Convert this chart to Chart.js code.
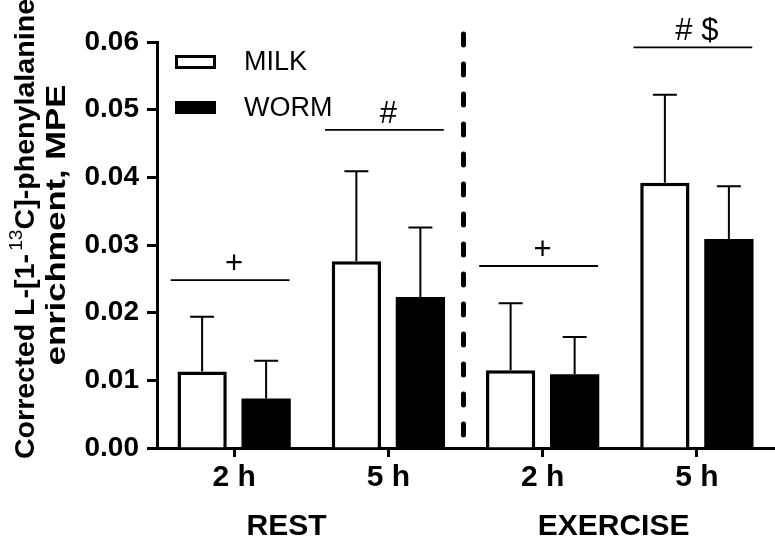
<!DOCTYPE html>
<html><head><meta charset="utf-8">
<script src="https://cdn.jsdelivr.net/npm/chart.js@4/dist/chart.umd.min.js"></script>
<style>html,body{margin:0;padding:0;background:#fff}</style>
</head><body>
<canvas id="c" width="775" height="544"></canvas>
<script>
const categories = ['2 h', '5 h', '2 h', '5 h'];
const groupLabels = ['REST', 'EXERCISE'];
const seriesNames = ['MILK', 'WORM'];
const milkMean = [0.0113, 0.0276, 0.0115, 0.0392];
const milkSD   = [0.0081, 0.0133, 0.0099, 0.0130];
const wormMean = [0.0073, 0.0223, 0.0109, 0.0309];
const wormSD   = [0.0056, 0.0103, 0.0055, 0.0078];
const sigText  = ['+', '#', '+', '# $'];
const sigLevel = [0.0248, 0.0470, 0.0269, 0.0592];
const yMin = 0, yMax = 0.06, yStep = 0.01;
const yTitle1a = 'Corrected L-[1-', yTitleSup = '13', yTitle1b = 'C]-phenylalanine';
const yTitle2 = 'enrichment, MPE';

const FONT = '"Liberation Sans", Arial, sans-serif';

const annot = {
  id: 'annot',
  afterDatasetsDraw(chart) {
    const {ctx, chartArea: ca, scales: {x, y}} = chart;
    ctx.save();
    ctx.strokeStyle = '#000';
    // error bars (upper only)
    chart.data.datasets.forEach((ds, di) => {
      const sd = di === 0 ? milkSD : wormSD;
      chart.getDatasetMeta(di).data.forEach((bar, i) => {
        const top = y.getPixelForValue(ds.data[i] + sd[i]);
        ctx.lineWidth = 2;
        ctx.beginPath();
        ctx.moveTo(bar.x, bar.y);
        ctx.lineTo(bar.x, top);
        ctx.moveTo(bar.x - 12, top);
        ctx.lineTo(bar.x + 12, top);
        ctx.stroke();
      });
    });
    // significance lines & symbols
    const cw = x.getPixelForValue(1) - x.getPixelForValue(0);
    ctx.fillStyle = '#000';
    ctx.font = '31px ' + FONT;
    ctx.textAlign = 'center';
    ctx.textBaseline = 'alphabetic';
    sigText.forEach((t, i) => {
      const cx = x.getPixelForValue(i) - 4;
      const ly = y.getPixelForValue(sigLevel[i]);
      ctx.lineWidth = 1.8;
      ctx.beginPath();
      ctx.moveTo(cx - 0.385 * cw, ly);
      ctx.lineTo(cx + 0.385 * cw, ly);
      ctx.stroke();
      ctx.fillText(t, cx + 4, ly - 7);
    });
    // dashed divider between REST and EXERCISE
    const dx = (x.getPixelForValue(1) + x.getPixelForValue(2)) / 2 - 2;
    ctx.lineWidth = 5;
    ctx.lineCap = 'round';
    ctx.setLineDash([11, 19]);
    ctx.beginPath();
    ctx.moveTo(dx, ca.top - 8);
    ctx.lineTo(dx, ca.bottom);
    ctx.stroke();
    ctx.restore();
  },
  afterDraw(chart) {
    const {ctx, chartArea: ca, scales: {x}} = chart;
    ctx.save();
    ctx.fillStyle = '#000';
    // legend
    const lx = ca.left + 18;
    const rows = [ca.top + 20, ca.top + 66];
    ctx.font = '27px ' + FONT;
    ctx.textBaseline = 'middle';
    ctx.textAlign = 'left';
    chart.data.datasets.forEach((ds, i) => {
      const cy = rows[i];
      if (i === 0) {
        ctx.lineWidth = 3;
        ctx.strokeStyle = '#000';
        ctx.strokeRect(lx + 1.5, cy - 5.5, 38, 11);
      } else {
        ctx.fillRect(lx, cy - 7, 41, 13);
      }
      ctx.fillText(ds.label, lx + 69, cy + 1);
    });
    // group labels
    ctx.font = 'bold 30px ' + FONT;
    ctx.textAlign = 'center';
    const cw = x.getPixelForValue(1) - x.getPixelForValue(0);
    ctx.fillText(groupLabels[0], x.getPixelForValue(0) + 0.34 * cw, 527);
    ctx.fillText(groupLabels[1], x.getPixelForValue(2) + 0.46 * cw, 527);
    // y title (rotated, two lines)
    const big = 'bold 27px ' + FONT, small = '18px ' + FONT;
    ctx.save();
    ctx.translate(34, 229);
    ctx.rotate(-Math.PI / 2);
    ctx.scale(1.06, 1);
    ctx.textBaseline = 'alphabetic';
    ctx.textAlign = 'left';
    ctx.font = big;
    const wa = ctx.measureText(yTitle1a).width;
    const wb = ctx.measureText(yTitle1b).width;
    ctx.font = small;
    const ws = ctx.measureText(yTitleSup).width + 3;
    const total = wa + ws + wb;
    let px = -total / 2;
    ctx.font = big;
    ctx.fillText(yTitle1a, px, 0); px += wa + 3;
    ctx.font = small;
    ctx.fillText(yTitleSup, px, -12); px += ws - 3;
    ctx.font = big;
    ctx.fillText(yTitle1b, px, 0);
    ctx.restore();
    ctx.save();
    ctx.translate(65, 225);
    ctx.rotate(-Math.PI / 2);
    ctx.scale(1.28, 1);
    ctx.font = big;
    ctx.textAlign = 'center';
    ctx.textBaseline = 'alphabetic';
    ctx.fillText(yTitle2, 0, 0);
    ctx.restore();
    ctx.restore();
  }
};

new Chart(document.getElementById('c'), {
  type: 'bar',
  data: {
    labels: categories,
    datasets: [
      { label: seriesNames[0], data: milkMean, backgroundColor: '#fff', borderColor: '#000', borderWidth: 3.5,
        categoryPercentage: 0.83, barPercentage: 0.77 },
      { label: seriesNames[1], data: wormMean, backgroundColor: '#000', borderColor: '#000', borderWidth: 0,
        categoryPercentage: 0.83, barPercentage: 0.77 }
    ]
  },
  options: {
    responsive: false,
    animation: false,
    devicePixelRatio: 1,
    layout: { padding: { left: 84, right: 1, top: 42, bottom: 0 } },
    plugins: { legend: { display: false }, tooltip: { enabled: false } },
    scales: {
      x: {
        z: 1,
        offset: true,
        border: { display: true, color: '#000', width: 3 },
        grid: { display: true, offset: false, drawOnChartArea: false, drawTicks: true, tickLength: 9, tickColor: '#000', tickWidth: 3 },
        ticks: { color: '#000', font: { family: FONT, size: 30, weight: 'bold' }, padding: 3, maxRotation: 0 },
        afterFit(s) { s.height = 96; }
      },
      y: {
        z: 1,
        min: yMin, max: yMax,
        border: { display: true, color: '#000', width: 3 },
        grid: { display: true, drawOnChartArea: false, drawTicks: true, tickLength: 10, tickColor: '#000', tickWidth: 3 },
        ticks: { stepSize: yStep, color: '#000', padding: 8, font: { family: FONT, size: 28, weight: 'bold' },
                 callback: v => Number(v).toFixed(2) },
        afterFit(s) { s.width = 73; }
      }
    }
  },
  plugins: [annot]
});
</script>
</body></html>
